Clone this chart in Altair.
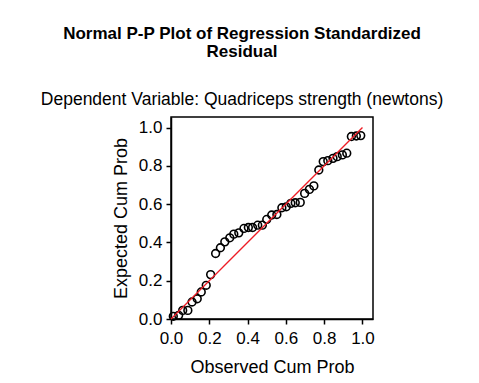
import altair as alt
import pandas as pd

observed = [0.012, 0.040, 0.061, 0.088, 0.110, 0.137, 0.158, 0.184, 0.207, 0.233,
            0.258, 0.281, 0.307, 0.328, 0.354, 0.381, 0.404, 0.426, 0.453, 0.477,
            0.500, 0.526, 0.553, 0.579, 0.602, 0.626, 0.649, 0.675, 0.698, 0.723,
            0.746, 0.772, 0.795, 0.819, 0.846, 0.868, 0.895, 0.918, 0.942, 0.968, 0.991]
expected = [0.014, 0.019, 0.045, 0.045, 0.089, 0.106, 0.141, 0.176, 0.232, 0.342,
            0.372, 0.403, 0.424, 0.443, 0.450, 0.473, 0.478, 0.478, 0.490, 0.490,
            0.520, 0.543, 0.546, 0.581, 0.586, 0.604, 0.607, 0.609, 0.656, 0.677,
            0.695, 0.778, 0.822, 0.827, 0.839, 0.848, 0.857, 0.866, 0.953, 0.956, 0.958]
ref_line = [0.0, 1.0]
ticks = [0.0, 0.2, 0.4, 0.6, 0.8, 1.0]

pts = pd.DataFrame({"obs": observed, "exp": expected})
line = pd.DataFrame({"obs": ref_line, "exp": ref_line})

FONT = "Liberation Sans"
dom = [0, 1.055]

xenc = alt.X("obs:Q", scale=alt.Scale(domain=dom, nice=False, zero=False),
             axis=alt.Axis(title="Observed Cum Prob", values=ticks, format=".1f"))
yenc = alt.Y("exp:Q", scale=alt.Scale(domain=dom, nice=False, zero=False),
             axis=alt.Axis(title="Expected Cum Prob", values=ticks, format=".1f"))

points = alt.Chart(pts).mark_point(shape="circle", filled=False, stroke="black",
                                   strokeWidth=1.6, size=60, opacity=1).encode(x=xenc, y=yenc)
rline = alt.Chart(line).mark_line(stroke="#ee1c25", strokeWidth=1.3, opacity=1).encode(x=xenc, y=yenc)

chart = (points + rline).properties(
    width=202, height=202,
    autosize=alt.AutoSizeParams(type="none"),
    padding={"left": 163, "top": 109, "right": 98, "bottom": 56},
    title=alt.TitleParams(
        text=["Normal P-P Plot of Regression Standardized", "Residual"],
        subtitle="Dependent Variable: Quadriceps strength (newtons)",
        font=FONT, fontSize=17, fontWeight="bold", color="black",
        lineHeight=18,
        subtitleFont=FONT, subtitleFontSize=17.5, subtitleColor="black",
        subtitlePadding=30,
        anchor="middle", frame="group", dx=-30, offset=8,
    ),
).configure_view(stroke="black", strokeWidth=1.5).configure_axis(
    grid=False, domainColor="black", domainWidth=1.5, tickColor="black",
    tickWidth=1.5, tickSize=5, labelFont=FONT, labelFontSize=17, labelColor="black",
    labelFlush=False,
    titleFont=FONT, titleFontSize=18, titleFontWeight="normal", titleColor="black",
).configure_axisX(labelPadding=6, titlePadding=12).configure_axisY(labelPadding=4, titlePadding=8)

chart.save("out.html", embed_options={"renderer": "svg", "actions": False})
